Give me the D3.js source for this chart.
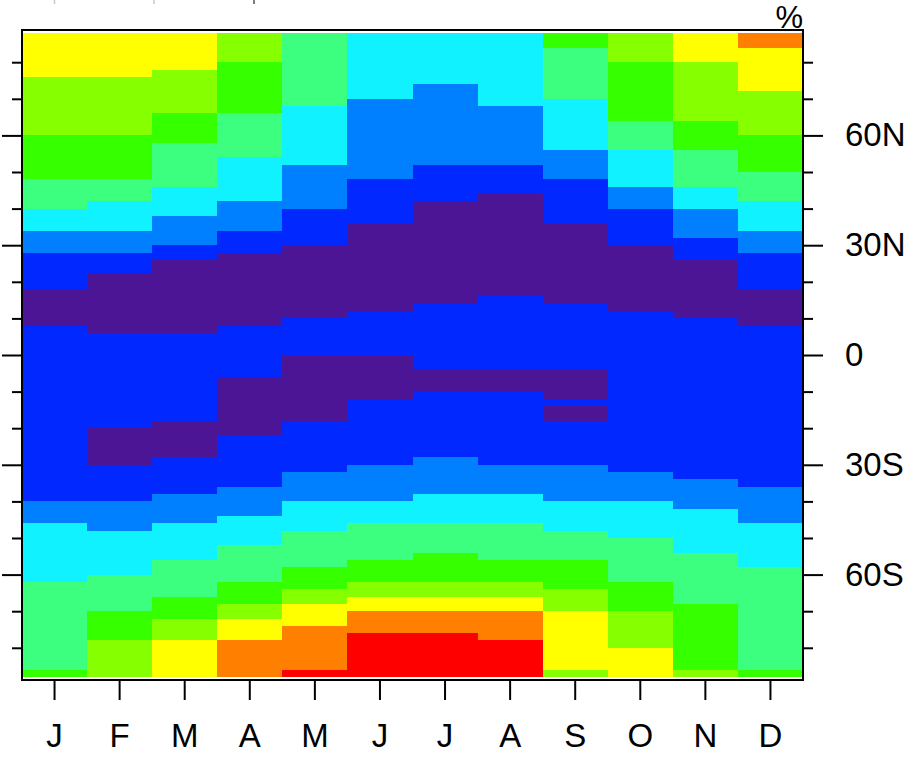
<!DOCTYPE html>
<html>
<head>
<meta charset="utf-8">
<script src="https://cdn.jsdelivr.net/npm/d3@7"></script>
<style>
  body { margin: 0; background: #fff; }
  svg { display: block; font-family: "Liberation Sans", Arial, Helvetica, sans-serif; }
</style>
</head>
<body>
<div id="chart"></div>
<script>
// 月份与纬度刻度
const months = ["J", "F", "M", "A", "M", "J", "J", "A", "S", "O", "N", "D"];
const latTicks = [60, 30, 0, -30, -60];
const latLabels = ["60N", "30N", "0", "30S", "60S"];
const minorTicks = [80, 70, 50, 40, 20, 10, -10, -20, -40, -50, -70, -80];

// 色阶 (class 0..9)
const classColors = ["#4c1596", "#0028ff", "#0080ff", "#10f2ff", "#3cff80",
                     "#36ff00", "#86ff00", "#ffff00", "#ff8000", "#ff0000"];

// 每月的色带: [class, 南边界纬度], 从 88N 往南
const jan = [[7,76],[6,60],[5,48],[4,40],[3,34],[2,28],[1,18],[0,8],[1,-40],[2,-46],[3,-62],[4,-86],[5,-88]];
const feb = [[7,76],[6,60],[5,48],[4,42],[3,34],[2,28],[1,22],[0,6],[1,-20],[0,-30],[1,-40],[2,-48],[3,-60],[4,-70],[5,-78],[6,-88]];
const mar = [[7,78],[6,66],[5,58],[4,46],[3,38],[2,30],[1,26],[0,6],[1,-18],[0,-28],[1,-38],[2,-46],[3,-56],[4,-66],[5,-72],[6,-78],[7,-88]];
const apr = [[6,80],[5,66],[4,54],[3,42],[2,34],[1,28],[0,8],[1,-6],[0,-22],[1,-36],[2,-44],[3,-52],[4,-62],[5,-68],[6,-72],[7,-78],[8,-88]];
const may = [[4,68],[3,52],[2,40],[1,30],[0,10],[1,0],[0,-18],[1,-32],[2,-40],[3,-48],[4,-58],[5,-64],[6,-68],[7,-74],[8,-86],[9,-88]];
const jun = [[3,70],[2,48],[1,36],[0,12],[1,0],[0,-12],[1,-30],[2,-40],[3,-46],[4,-56],[5,-62],[6,-66],[7,-70],[8,-76],[9,-88]];
const jul = [[3,74],[2,52],[1,42],[0,14],[1,-4],[0,-10],[1,-28],[2,-38],[3,-46],[4,-54],[5,-62],[6,-66],[7,-70],[8,-76],[9,-88]];
const aug = [[3,68],[2,52],[1,44],[0,16],[1,-4],[0,-10],[1,-30],[2,-38],[3,-46],[4,-56],[5,-62],[6,-66],[7,-70],[8,-78],[9,-88]];
const sep = [[5,84],[4,70],[3,56],[2,48],[1,36],[0,14],[1,-4],[0,-12],[1,-14],[0,-18],[1,-30],[2,-40],[3,-48],[4,-56],[5,-64],[6,-70],[7,-86],[6,-88]];
const oct = [[6,80],[5,64],[4,56],[3,46],[2,40],[1,30],[0,12],[1,-32],[2,-40],[3,-50],[4,-62],[5,-70],[6,-80],[7,-88]];
const nov = [[7,80],[6,64],[5,56],[4,46],[3,40],[2,32],[1,26],[0,10],[1,-34],[2,-42],[3,-54],[4,-68],[5,-86],[6,-88]];
const dec = [[8,84],[7,72],[6,60],[5,50],[4,42],[3,34],[2,28],[1,18],[0,8],[1,-36],[2,-46],[3,-58],[4,-86],[5,-88]];
const monthBands = [jan, feb, mar, apr, may, jun, jul, aug, sep, oct, nov, dec];
const dataTop = 88;

// 画布
const W = 922, H = 764;
const margin = { top: 30, right: 119, bottom: 84, left: 22 };
const width = W - margin.left - margin.right;
const height = H - margin.top - margin.bottom;

const svg = d3.select("#chart").append("svg")
    .attr("width", W)
    .attr("height", H);

const x = d3.scaleBand()
    .domain(d3.range(months.length))
    .range([margin.left, margin.left + width])
    .padding(0);

const y = d3.scaleLinear()
    .domain([-88.8, 88.8])
    .range([margin.top + height, margin.top]);

// 展开成格子
const cells = [];
monthBands.forEach((bands, i) => {
    let north = dataTop;
    bands.forEach(([c, south]) => {
        cells.push({ m: i, c, north, south });
        north = south;
    });
});

svg.append("g")
    .selectAll("rect")
    .data(cells)
    .join("rect")
    .attr("x", d => x(d.m))
    .attr("width", x.bandwidth() + 0.5)
    .attr("y", d => y(d.north))
    .attr("height", d => y(d.south) - y(d.north) + 0.3)
    .attr("fill", d => classColors[d.c])
    .attr("shape-rendering", "crispEdges");

// 坐标轴
function styleAxis(g) {
    g.select(".domain").remove();
    g.selectAll(".tick line").attr("stroke", "#000").attr("stroke-width", 2);
    g.selectAll(".tick text")
        .attr("fill", "#000")
        .style("font-size", "33px")
        .style("font-family", "'Liberation Sans', Arial, Helvetica, sans-serif");
}

svg.append("g")
    .attr("transform", `translate(0,${margin.top + height})`)
    .call(d3.axisBottom(x).tickFormat(i => months[i]).tickSize(20).tickPadding(24))
    .call(styleAxis);

const xr = margin.left + width;
svg.append("g")
    .attr("transform", `translate(${xr},0)`)
    .call(d3.axisRight(y).tickValues(latTicks).tickFormat((d, i) => latLabels[i]).tickSize(20).tickPadding(22))
    .call(styleAxis);

svg.append("g")
    .attr("transform", `translate(${xr},0)`)
    .call(d3.axisRight(y).tickValues(minorTicks).tickFormat("").tickSize(10))
    .call(styleAxis);

svg.append("g")
    .attr("transform", `translate(${margin.left},0)`)
    .call(d3.axisLeft(y).tickValues(latTicks).tickFormat("").tickSize(20))
    .call(styleAxis);

svg.append("g")
    .attr("transform", `translate(${margin.left},0)`)
    .call(d3.axisLeft(y).tickValues(minorTicks).tickFormat("").tickSize(10))
    .call(styleAxis);

// 边框
svg.append("rect")
    .attr("x", margin.left)
    .attr("y", margin.top)
    .attr("width", width)
    .attr("height", height)
    .attr("fill", "none")
    .attr("stroke", "#000")
    .attr("stroke-width", 2);

// 单位
svg.append("text")
    .attr("x", xr)
    .attr("y", margin.top - 2)
    .attr("text-anchor", "end")
    .style("font-size", "31px")
    .text("%");

// 上方残留的刻度线
[[54.5, "#c8c8c8"], [154, "#c8c8c8"], [254, "#555"]].forEach(([px, col]) => {
    svg.append("line")
        .attr("x1", px).attr("x2", px)
        .attr("y1", 0).attr("y2", 4)
        .attr("stroke", col)
        .attr("stroke-width", 1.5);
});
</script>
</body>
</html>
